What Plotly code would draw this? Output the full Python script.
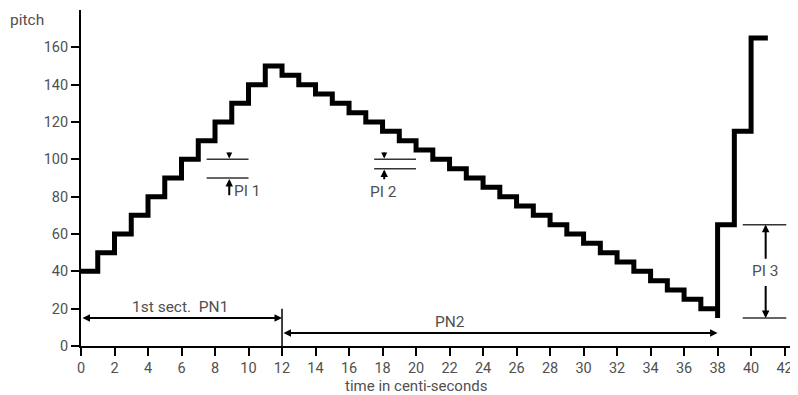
import plotly.graph_objects as go

# ---- data ----
time_cs = list(range(0, 38)) + [38, 38, 39, 40, 41]
pitch = [40, 50, 60, 70, 80, 90, 100, 110, 120, 130, 140, 150,
         145, 140, 135, 130, 125, 120, 115, 110, 105, 100, 95, 90, 85, 80,
         75, 70, 65, 60, 55, 50, 45, 40, 35, 30, 25, 20,
         15, 65, 115, 165, 165]

x_ticks = list(range(0, 43, 2))
y_ticks = list(range(0, 161, 20))

FONT = "Roboto"
TXT = "#505050"
LBL = 15.5

fig = go.Figure()
fig.add_trace(go.Scatter(x=time_cs, y=pitch, mode="lines", line_shape="hv",
                         line=dict(color="black", width=5), hoverinfo="skip",
                         showlegend=False))

shapes = []
for yv in (100, 90):
    shapes.append(dict(type="line", xref="x", yref="y", x0=7.5, x1=10, y0=yv, y1=yv,
                       line=dict(color="#333", width=1.5)))
for yv in (100, 95):
    shapes.append(dict(type="line", xref="x", yref="y", x0=17.5, x1=20, y0=yv, y1=yv,
                       line=dict(color="#333", width=1.5)))
for yv in (65, 15):
    shapes.append(dict(type="line", xref="x", yref="y", x0=39.5, x1=42.1, y0=yv, y1=yv,
                       line=dict(color="#333", width=1.5)))
shapes.append(dict(type="line", xref="x", yref="y", x0=12, x1=12, y0=0, y1=20,
                   line=dict(color="black", width=1.5)))

def arrow(x, y, ax, ay, both=False, w=2, size=0.75):
    return dict(x=x, y=y, ax=ax, ay=ay, xref="x", yref="y", axref="x", ayref="y",
                text="", showarrow=True, arrowhead=2, arrowsize=size, arrowwidth=w,
                arrowcolor="black", standoff=0, startstandoff=0,
                arrowside="end+start" if both else "end", startarrowhead=2,
                startarrowsize=size)

def label(x, y, text, xanchor="center"):
    return dict(x=x, y=y, xref="x", yref="y", text=text, showarrow=False,
                xanchor=xanchor, yanchor="middle",
                font=dict(family=FONT, size=LBL, color=TXT))

annotations = [
    arrow(8.85, 100.5, 8.85, 104.5, w=1.5, size=0.8),
    arrow(8.85, 89.5, 8.85, 80, w=2),
    label(9.0, 83, "PI 1", "left"),
    arrow(18.1, 100.5, 18.1, 104.5, w=1.5, size=0.8),
    arrow(18.1, 94.5, 18.1, 88.5, w=2),
    label(18.05, 82.5, "PI 2"),
    arrow(40.87, 65, 40.87, 46, w=2),
    arrow(40.87, 15, 40.87, 33, w=2),
    label(40.87, 40, "PI 3"),
    arrow(12, 15, 0, 15, both=True, w=2),
    label(5.9, 21, "1st sect.  PN1"),
    arrow(38, 7, 12, 7, both=True, w=2),
    label(22, 13, "PN2"),
    dict(x=0, y=1, xref="paper", yref="paper", xshift=-73, yshift=-10,
         text="pitch", showarrow=False, xanchor="left", yanchor="middle",
         font=dict(family=FONT, size=LBL, color=TXT)),
    dict(x=20, y=0, xref="x", yref="paper", yshift=-39.5,
         text="time in centi-seconds", showarrow=False, xanchor="center",
         yanchor="middle", font=dict(family=FONT, size=15, color=TXT)),
]

# page body adds an 8px offset, so the figure is 8px smaller than the window
fig.update_layout(
    width=790, height=387,
    margin=dict(l=73, r=0, t=2, b=49, pad=0, autoexpand=False),
    plot_bgcolor="white", paper_bgcolor="white",
    shapes=shapes, annotations=annotations,
    font=dict(family=FONT, size=14, color=TXT),
    xaxis=dict(range=[0, 42.8], tickvals=x_ticks, ticks="outside", ticklen=8,
               tickwidth=1.5, tickcolor="black", showline=True, linecolor="black",
               linewidth=2, showgrid=False, zeroline=False, automargin=False,
               tickfont=dict(family=FONT, size=14.5, color=TXT)),
    yaxis=dict(range=[0, 180], tickvals=y_ticks, ticks="outside", ticklen=8,
               tickwidth=1.5, tickcolor="black", showline=True, linecolor="black",
               linewidth=2, showgrid=False, zeroline=False, automargin=False,
               tickfont=dict(family=FONT, size=14.5, color=TXT)),
)

fig.write_html("out.html")
